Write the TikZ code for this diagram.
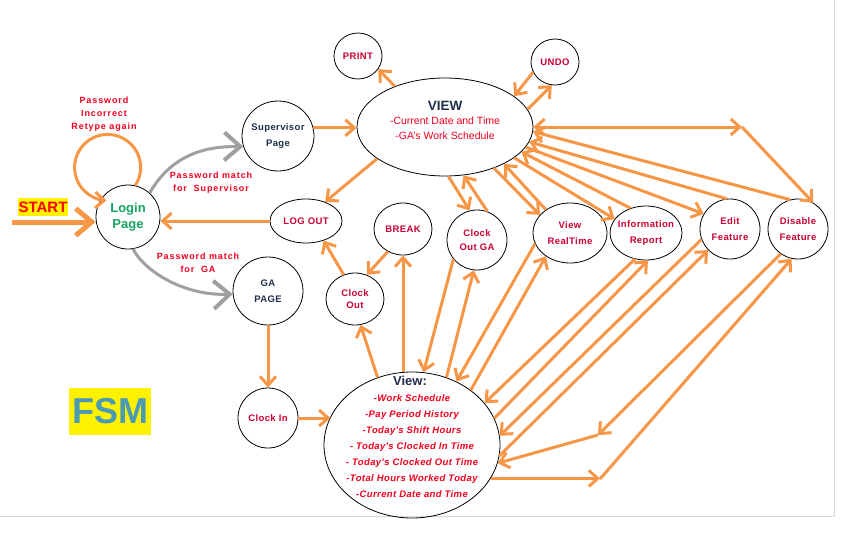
\documentclass[tikz,border=0pt]{standalone}
\usepackage{fontspec}
\setmainfont{Liberation Sans}
\newfontfamily\widesans[LetterSpace=10]{Liberation Sans}
\newfontfamily\narrowsans[LetterSpace=4]{Liberation Sans}
\usetikzlibrary{arrows.meta,shapes.geometric}
\definecolor{arrOrange}{RGB}{247,150,70}
\definecolor{arrGray}{RGB}{160,160,160}
\definecolor{lineGray}{RGB}{217,217,217}
\definecolor{nodeRed}{RGB}{204,0,51}
\definecolor{noteRed}{RGB}{240,0,30}
\definecolor{navyTxt}{RGB}{31,45,77}
\definecolor{loginGreen}{RGB}{20,165,100}
\definecolor{fsmBlue}{RGB}{74,154,180}

\begin{document}
\begin{tikzpicture}[x=1pt,y=-1pt,
  >={Straight Barb[length=9pt,width=16pt]},
  state/.style={draw=black, line width=0.8pt, ellipse, inner sep=0pt},
  lbl/.style={font=\narrowsans\bfseries\fontsize{9.5}{16}\selectfont, text=nodeRed, align=center},
  navylbl/.style={lbl, text=navyTxt},
  note/.style={font=\widesans\bfseries\fontsize{9}{13}\selectfont, text=noteRed, align=center},
  oarrow/.style={draw=arrOrange, line width=3pt, ->},
  oboth/.style={draw=arrOrange, line width=3pt, <->},
  garrow/.style={draw=arrGray, line width=3pt, -{Straight Barb[length=16pt,width=28pt,line width=4pt]}},
]
\useasboundingbox (0,0) rectangle (848,533);
\draw[lineGray, line width=1pt] (834,0) -- (834,516) -- (0,516);

% states
\node[state, minimum width=64pt, minimum height=64pt,
  label={[lbl, text=loginGreen, font=\bfseries\fontsize{13}{16}\selectfont]center:{Login\\Page}}] (login) at (128,217) {};
\node[state, minimum width=72pt, minimum height=70pt, label={[navylbl]center:{Supervisor\\Page}}] (sup) at (278,136) {};
\node[state, minimum width=70pt, minimum height=68pt, label={[navylbl]center:{GA\\PAGE}}] (ga) at (268,291) {};
\node[state, minimum width=72pt, minimum height=44pt, label={[lbl]center:LOG OUT}] (logout) at (306,221) {};
\node[state, minimum width=58pt, minimum height=52pt, label={[lbl]center:BREAK}] (brk) at (403,229) {};
\node[state, minimum width=58pt, minimum height=52pt,
  label={[lbl, font=\narrowsans\bfseries\fontsize{9.5}{12.5}\selectfont]center:{Clock\\Out}}] (cout) at (355,299) {};
\node[state, minimum width=60pt, minimum height=60pt,
  label={[lbl, font=\narrowsans\bfseries\fontsize{9.5}{13.5}\selectfont]center:{Clock\\Out GA}}] (coga) at (477,240) {};
\node[state, minimum width=74pt, minimum height=60pt, label={[lbl]center:{View\\RealTime}}] (rt) at (570,233) {};
\node[state, minimum width=72pt, minimum height=54pt, label={[lbl]center:{Information\\Report}}] (info) at (646,233) {};
\node[state, minimum width=60pt, minimum height=60pt, label={[lbl]center:{Edit\\Feature}}] (edit) at (730,229) {};
\node[state, minimum width=60pt, minimum height=60pt, label={[lbl]center:{Disable\\Feature}}] (dis) at (798,229) {};
\node[state, minimum width=48pt, minimum height=46pt, label={[lbl]center:PRINT}] (print) at (358,56) {};
\node[state, minimum width=48pt, minimum height=46pt, label={[lbl]center:UNDO}] (undo) at (555,62) {};
\node[state, minimum width=60pt, minimum height=60pt, label={[lbl]center:Clock In}] (cin) at (268,418) {};
\node[state, minimum width=176pt, minimum height=98pt] (viewT) at (445,127) {};
\node[state, minimum width=176pt, minimum height=146pt] (viewB) at (412,445) {};

\node[font=\bfseries\fontsize{13.5}{14}\selectfont, text=navyTxt] (viewTtitle) at (445,106) {VIEW};
\node[font=\fontsize{10.5}{14.7}\selectfont, text=noteRed, align=center] (viewTtext) at (445,128.5)
  {-Current Date and Time\\-GA's Work Schedule};
\node[font=\bfseries\fontsize{13}{14}\selectfont, text=navyTxt] (viewBtitle) at (410,381) {View:};
\node[font=\narrowsans\bfseries\itshape\fontsize{9.5}{16}\selectfont, text=noteRed, align=center] (viewBtext) at (412,446.5)
  {-Work Schedule\\-Pay Period History\\-Today's Shift Hours\\- Today's Clocked In Time\\- Today's Clocked Out Time\\-Total Hours Worked Today\\-Current Date and Time};

% labels
\node[fill=yellow, text=red, font=\bfseries\fontsize{15}{15}\selectfont, inner sep=1pt, minimum height=18pt] (start) at (43,207) {START};
\node[fill=yellow, text=fsmBlue, font=\bfseries\fontsize{36}{36}\selectfont, inner sep=0pt,
  minimum width=82pt, minimum height=47pt] (fsm) at (110,411.5) {FSM};
\node[note] (retype) at (104,114.5) {Password\\Incorrect\\Retype again};
\node[note, font=\widesans\bfseries\fontsize{9}{12.7}\selectfont] (supmatch) at (211,183) {Password match\\for~ Supervisor};
\node[note, font=\widesans\bfseries\fontsize{9}{12.7}\selectfont] (gamatch) at (198,263) {Password match\\for~ GA};

\coordinate (starttail) at (12,222);
\coordinate (bend1) at (742,127);
\coordinate (bend2) at (598,435);
\coordinate (bend3) at (600,479);

% transitions
\draw[draw=arrOrange, line width=5pt, -{Straight Barb[length=16pt,width=27pt]}] (starttail) -- (starttail -| login.west);
\draw[oarrow] (login.77) arc[start angle=33, end angle=-268, radius=33];
\draw[garrow] (login.48) .. controls (170,158) and (200,146) .. (sup.197);
\draw[garrow] (login.-81) .. controls (145,272) and (185,296) .. (ga.185);

\draw[oarrow] (sup.13) -- (sup.13 -| viewT.west);
\draw[oarrow] (logout.west) -- (logout.west -| login.east);
\draw[oarrow] (brk.south |- viewB.north) -- (brk.south);
\draw[oarrow] (ga.south) -- (cin.north);
\draw[oarrow] (cin.east) -- (cin.east -| viewB.161);
\draw[oboth] (viewT.east) -- (bend1);
\draw[oarrow] (viewB.-23) -- (viewB.-23 -| bend3);

\foreach \a/\b in {viewT.141/print.-33, undo.205/viewT.24, viewT.12/undo.262, viewT.205/logout.45,
  cout.115/logout.-48, brk.236/cout.64, viewB.117/cout.-78,
  viewT.-86/coga.104, coga.70/viewT.-69, coga.219/viewB.81, viewB.63/coga.-96,
  viewT.-40/rt.149, rt.136/viewT.-32, viewT.-24/info.156, info.122/viewT.-18,
  viewT.-14/edit.150, edit.96/viewT.-10, dis.105/viewT.-3, bend1/dis.60,
  rt.197/viewB.55, viewB.43/rt.224, info.247/viewB.30, viewB.18/info.-86,
  edit.200/viewB.6, viewB.-7/edit.224, dis.235/bend2, bend2/viewB.-12, bend3/dis.258}
  \draw[oarrow] (\a) -- (\b);

\end{tikzpicture}
\end{document}
